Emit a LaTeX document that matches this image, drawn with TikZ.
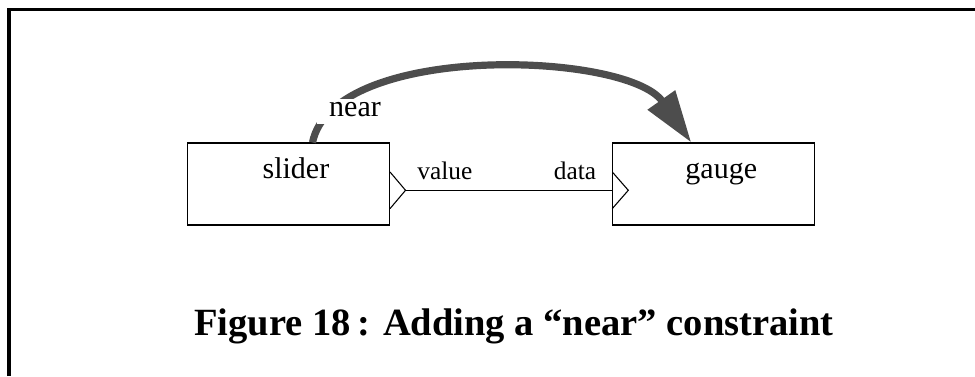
\documentclass[tikz,border=0pt]{standalone}
\usepackage{fontspec}
\setmainfont{Liberation Serif}
\usepackage{tikz}
\usetikzlibrary{arrows.meta, calc}
\definecolor{arcgray}{RGB}{77,77,77}
\tikzstyle{block} = [rectangle, draw, line width=0.8pt,
    minimum width=151.5pt, minimum height=61.5pt, inner sep=0pt]
\tikzstyle{blocktext} = [font=\fontsize{22.5}{27}\selectfont,
    text height=0.7em, text depth=0.25em]
\tikzstyle{porttext} = [font=\fontsize{19}{22}\selectfont,
    text height=0.7em, text depth=0.25em]
\tikzstyle{port} = [draw, line width=0.8pt, line join=miter]
\tikzstyle{line} = [draw, line width=0.8pt]
\tikzstyle{constraint} = [draw=arcgray, line width=5.4pt,
    -{Triangle[length=39pt, width=24pt, fill=arcgray]}]
\tikzstyle{caption} = [font=\fontsize{28.9}{34}\selectfont\bfseries]

\begin{document}
\begin{tikzpicture}[x=0.75pt, y=0.75pt, node distance=319pt]
    \useasboundingbox (0,0) rectangle (975,376);
    % Frame
    \draw[line width=2.4pt, line join=miter] (9,0) -- (9,366.8) -- (975,366.8);

    % Nodes
    \node[block] (slider) at (288.5,192) {};
    \node[block, right of=slider] (gauge) {};
    \node[blocktext, above of=slider, node distance=6.5pt, xshift=5.6pt] (sliderlbl) {slider};
    \node[blocktext, above of=gauge, node distance=6.5pt, xshift=5.6pt] (gaugelbl) {gauge};
    \coordinate (valueout) at ($(slider.east)+(15.5,-6.3)$);
    \coordinate (datain) at ($(gauge.west)+(0,-6.3)$);
    \coordinate (nearfrom) at ($(slider.north)+(24,0)$);
    \coordinate (nearto) at ($(gauge.north)+(-22.6,0)$);

    % Ports
    \path[port] ($(slider.east)+(0,12)$) -- ++(15.5,-18.3) -- ++(-15.5,-18.3);
    \path[port] ($(gauge.west)+(0,12)$) -- ++(16,-18.3) -- ++(-16,-18.3);

    % Edges
    \path[line] (valueout) -- node[porttext, pos=0.19, above=2pt] (valuelbl) {value}
        node[porttext, pos=0.82, above=2pt] (datalbl) {data} (datain);
    \path[constraint] (nearfrom) .. controls +(21,101) and +(-64,91) .. (nearto);
    \node[blocktext, fill=white, inner xsep=9pt, inner ysep=6pt, text depth=0pt,
        anchor=base] (nearlbl) at ($(slider.north)+(66.5,26)$) {near};

    % Caption
    \node[caption, anchor=base] (title) at (514,41) {Figure 18\,: Adding a “near” constraint};
\end{tikzpicture}
\end{document}
